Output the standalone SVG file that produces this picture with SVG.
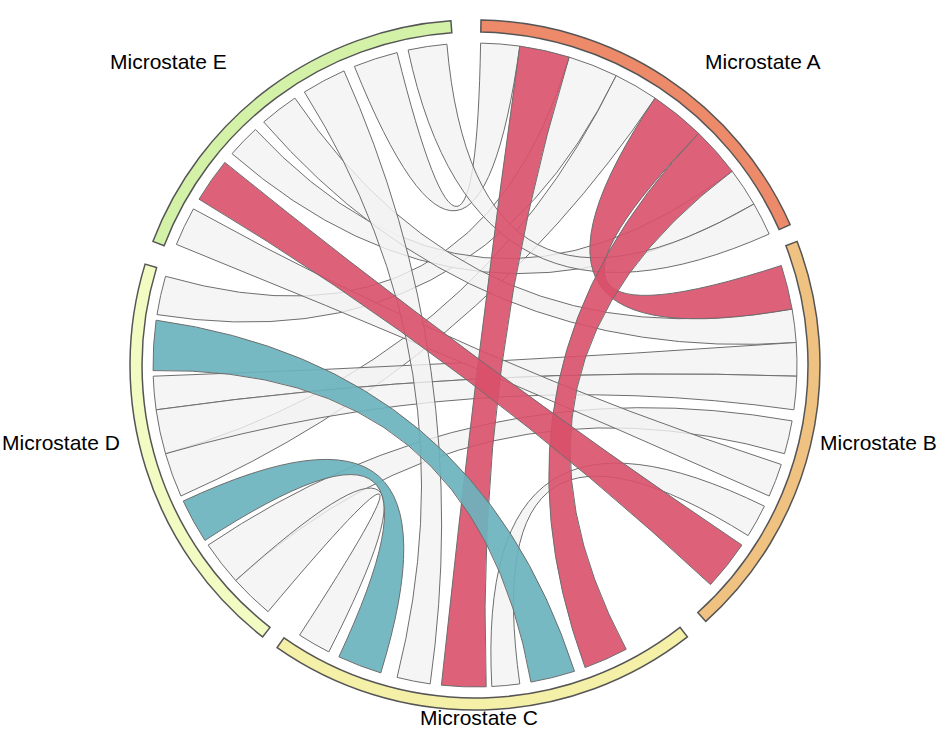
<svg xmlns="http://www.w3.org/2000/svg" width="950" height="729" viewBox="0 0 950 729">
<style>
.g{fill:#f2f2f2;fill-opacity:.8;stroke:#6e6e6e;stroke-width:1}
.r{fill:#d9506a;fill-opacity:.9;stroke:#6e6e6e;stroke-width:1}
.t{fill:#6bb3be;fill-opacity:.92;stroke:#6e6e6e;stroke-width:1}
.seg{stroke:#555;stroke-width:1.5}
text{font-family:"Liberation Sans",Arial,sans-serif;font-size:21px;fill:#000}
</style>
<rect width="950" height="729" fill="#fff"/>
<g id="connectors">
<path class="g" d="M480.6,43.1 A322 322 0 0 1 519.8,46.1 Q475 365 354.4,66.4 A322 322 0 0 1 397.1,52.6 Q475 365 480.6,43.1Z"/>
<path class="g" d="M569.2,57.1 A322 322 0 0 1 616.2,75.6 Q475 365 157.0,314.6 A322 322 0 0 1 165.5,276.3 Q475 365 569.2,57.1Z"/>
<path class="g" d="M616.2,75.6 A322 322 0 0 1 655.1,98.1 Q475 365 180.9,496.0 A322 322 0 0 1 165.5,453.7 Q475 365 616.2,75.6Z"/>
<path class="g" d="M732.2,171.2 A322 322 0 0 1 753.9,204.0 Q475 365 232.0,153.7 A322 322 0 0 1 255.4,129.5 Q475 365 732.2,171.2Z"/>
<path class="g" d="M753.9,204.0 A322 322 0 0 1 769.2,234.0 Q475 365 408.1,50.0 A322 322 0 0 1 446.9,44.2 Q475 365 753.9,204.0Z"/>
<path class="g" d="M792.1,309.1 A322 322 0 0 1 796.2,342.5 Q475 365 263.7,122.0 A322 322 0 0 1 294.9,98.1 Q475 365 792.1,309.1Z"/>
<path class="g" d="M796.2,342.5 A322 322 0 0 1 796.8,376.2 Q475 365 156.1,409.8 A322 322 0 0 1 153.2,376.2 Q475 365 796.2,342.5Z"/>
<path class="g" d="M796.8,376.2 A322 322 0 0 1 793.9,409.8 Q475 365 165.5,453.7 A322 322 0 0 1 156.1,409.8 Q475 365 796.8,376.2Z"/>
<path class="g" d="M792.1,420.9 A322 322 0 0 1 784.5,453.7 Q475 365 235.7,580.5 A322 322 0 0 1 208.1,545.1 Q475 365 792.1,420.9Z"/>
<path class="g" d="M781.3,464.5 A322 322 0 0 1 769.2,496.0 Q475 365 176.4,244.4 A322 322 0 0 1 193.4,208.9 Q475 365 781.3,464.5Z"/>
<path class="g" d="M764.4,506.2 A322 322 0 0 1 748.1,535.6 Q475 365 519.8,683.9 A322 322 0 0 1 491.8,686.5 Q475 365 764.4,506.2Z"/>
<path class="g" d="M430.2,683.9 A322 322 0 0 1 397.1,677.4 Q475 365 304.4,92.0 A322 322 0 0 1 344.0,70.9 Q475 365 430.2,683.9Z"/>
<path class="g" d="M328.8,651.9 A322 322 0 0 1 299.6,635.1 Q475 365 268.0,611.7 A322 322 0 0 1 235.7,580.5 Q475 365 328.8,651.9Z"/>
<path class="r" d="M519.8,46.1 A322 322 0 0 1 569.2,57.1 Q475 365 486.2,686.8 A322 322 0 0 1 441.4,685.2 Q475 365 519.8,46.1Z"/>
<path class="r" d="M655.1,98.1 A322 322 0 0 1 698.7,133.4 Q475 365 781.3,265.5 A322 322 0 0 1 792.1,309.1 Q475 365 655.1,98.1Z"/>
<path class="r" d="M698.7,133.4 A322 322 0 0 1 732.2,171.2 Q475 365 626.2,649.3 A322 322 0 0 1 585.1,667.6 Q475 365 698.7,133.4Z"/>
<path class="r" d="M741.9,545.1 A322 322 0 0 1 710.5,584.6 Q475 365 199.0,199.2 A322 322 0 0 1 224.8,162.4 Q475 365 741.9,545.1Z"/>
<path class="t" d="M380.8,672.9 A322 322 0 0 1 338.9,656.8 Q475 365 204.9,540.4 A322 322 0 0 1 183.2,501.1 Q475 365 380.8,672.9Z"/>
<path class="t" d="M574.5,671.3 A322 322 0 0 1 530.9,682.1 Q475 365 153.1,370.6 A322 322 0 0 1 156.1,320.2 Q475 365 574.5,671.3Z"/>
</g>
<g id="nodeA"><path class="seg" fill="#ec8a6a" d="M481.0,20.1 A345 345 0 0 1 790.2,224.7 L779.2,229.6 A333 333 0 0 0 480.8,32.1Z"/><text x="705" y="69">Microstate A</text></g>
<g id="nodeB"><path class="seg" fill="#efc281" d="M797.1,241.4 A345 345 0 0 1 705.8,621.4 L697.8,612.5 A333 333 0 0 0 785.9,245.7Z"/><text x="820" y="450">Microstate B</text></g>
<g id="nodeC"><path class="seg" fill="#f5f0a8" d="M687.4,636.9 A345 345 0 0 1 277.1,647.6 L284.0,637.8 A333 333 0 0 0 680.0,627.4Z"/><text x="420" y="725">Microstate C</text></g>
<g id="nodeD"><path class="seg" fill="#f2fbc2" d="M262.6,636.9 A345 345 0 0 1 145.1,264.1 L156.6,267.6 A333 333 0 0 0 270.0,627.4Z"/><text x="2" y="450">Microstate D</text></g>
<g id="nodeE"><path class="seg" fill="#d3f2a8" d="M152.9,241.4 A345 345 0 0 1 450.9,20.8 L451.8,32.8 A333 333 0 0 0 164.1,245.7Z"/><text x="110" y="69">Microstate E</text></g>
</svg>
